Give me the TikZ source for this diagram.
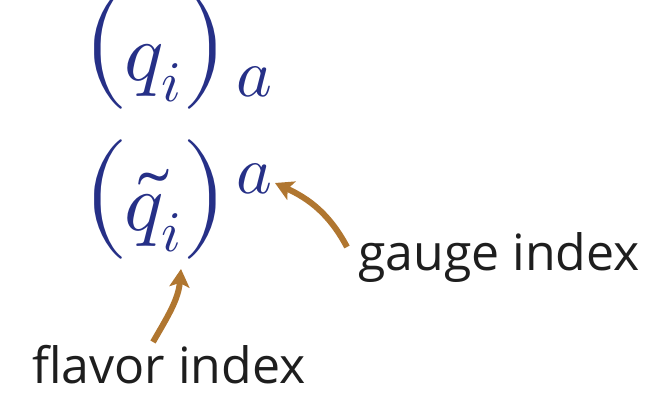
\documentclass[tikz,border=0pt]{standalone}
\usepackage{fontspec}
\usepackage{unicode-math}
\setmathfont{Latin Modern Math}
\newfontfamily\labelfont{Open Sans}
\usetikzlibrary{arrows.meta}
\definecolor{mathblue}{RGB}{38,48,135}
\definecolor{arrowbrown}{RGB}{176,118,48}
\definecolor{labelgray}{RGB}{30,30,30}
\newcommand{\idxa}[1]{\raisebox{#1}{\fontsize{68}{72}\selectfont$a$}}
\newcommand{\myLP}{\raisebox{1pt}{\fontsize{120}{124}\selectfont$($}}
\newcommand{\myRP}{\raisebox{1pt}{\fontsize{120}{124}\selectfont$)$}}
\tikzset{
  mathnode/.style={inner sep=0pt, anchor=base west, text=mathblue, font=\fontsize{82}{96}\selectfont},
  labelnode/.style={inner sep=0pt, anchor=base west, text=labelgray, font=\labelfont\fontsize{50}{60}\selectfont},
  pointer/.style={draw=arrowbrown, line width=6pt, -{Stealth[length=18pt,width=20pt,inset=4pt]}}
}
\begin{document}
\begin{tikzpicture}[x=1pt,y=1pt]
\useasboundingbox (0,0) rectangle (657,397);
\node[mathnode] (qa) at (82,316) {$\myLP\kern-4pt q_i\kern0pt\myRP\kern8pt\idxa{-16pt}$};
\node[mathnode] (qt) at (82,166) {$\myLP\kern-4pt\tilde{q}_i\kern0pt\myRP\kern8pt\idxa{37pt}$};
\node[labelnode] (gauge) at (358,126) {gauge index};
\node[labelnode] (flavor) at (32,14) {flavor index};
\coordinate (gtail) at (347,150);
\coordinate (ghead) at (275,214);
\coordinate (ftail) at (153,55);
\coordinate (fhead) at (181,128);
\draw[pointer] (gtail) to[out=118,in=-25] (ghead);
\draw[pointer] (ftail) to[out=60,in=-95] (fhead);
\end{tikzpicture}
\end{document}
